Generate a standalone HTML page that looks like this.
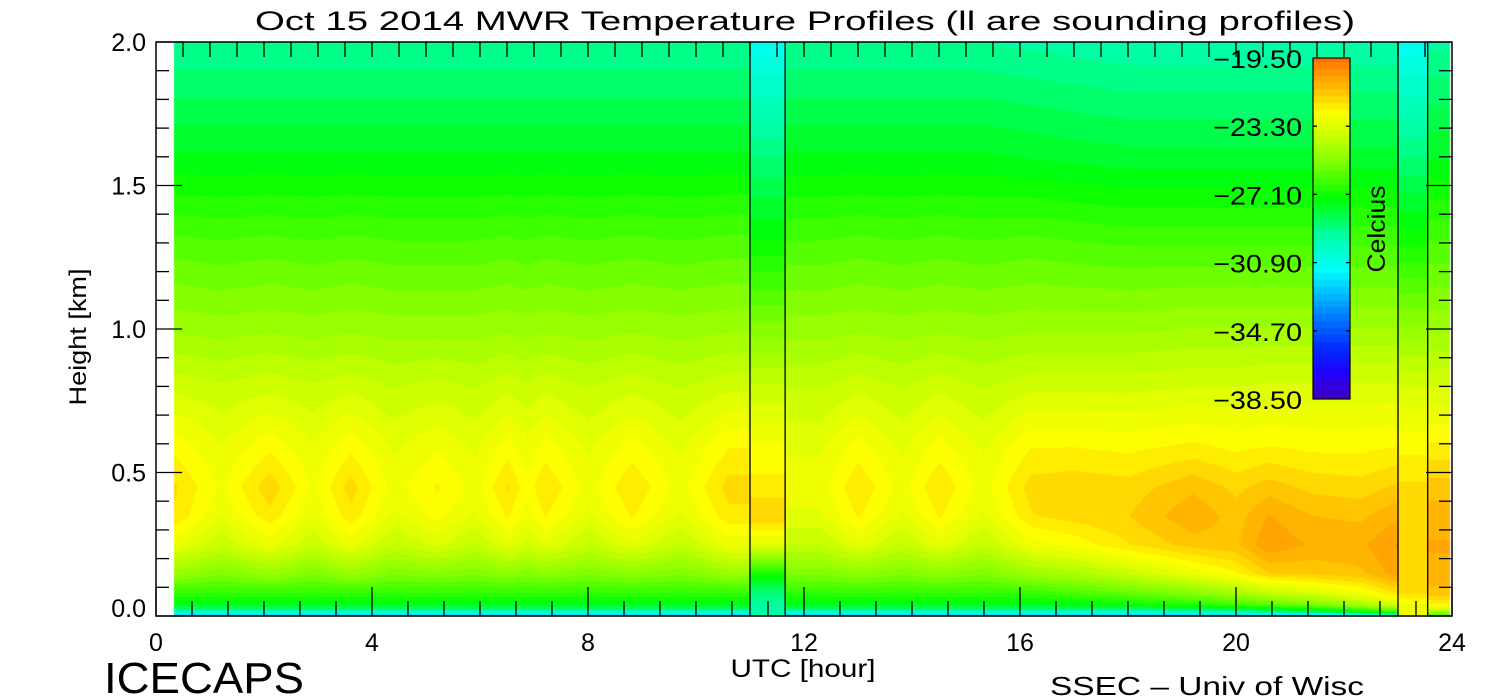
<!DOCTYPE html>
<html><head><meta charset="utf-8"><style>
html,body{margin:0;padding:0;background:#fff;width:1500px;height:700px;overflow:hidden}
#wrap{position:relative;width:1500px;height:700px}
canvas{position:absolute;left:0;top:0}
svg{position:absolute;left:0;top:0}
text{font-family:"Liberation Sans",sans-serif;fill:#000}
</style></head><body>
<div id="wrap">
<canvas id="cv" width="1500" height="700"></canvas>
<svg id="sv" width="1500" height="700"></svg>
</div>
<script>
// ---- data ----
const heights = [0,0.015,0.04,0.08,0.15,0.25,0.35,0.45,0.6,0.8,1.0,1.3,1.6,2.0];
const times = [0.33,1.2,2.1,2.9,3.6,4.4,5.2,5.9,6.5,6.85,7.2,8.0,8.8,9.7,10.6,11.0];
const temps = [
 [-34,-30,-27.6,-26.6,-24.8,-23.0,-22.0,-21.9,-22.5,-23.6,-24.7,-26.0,-27.6,-29.2],
 [-34,-30,-27.6,-26.6,-25.3,-23.8,-23.1,-22.8,-23.1,-23.8,-24.8,-26.1,-27.6,-29.2],
 [-34,-30,-27.6,-26.6,-24.8,-23.0,-22.1,-21.7,-22.5,-23.6,-24.7,-26.0,-27.6,-29.2],
 [-34,-30,-27.6,-26.6,-25.3,-23.8,-23.1,-22.8,-23.1,-23.8,-24.8,-26.1,-27.6,-29.2],
 [-34,-30,-27.6,-26.6,-24.8,-23.0,-22.1,-21.8,-22.5,-23.6,-24.7,-26.0,-27.6,-29.2],
 [-34,-30,-27.6,-26.6,-25.3,-23.9,-23.2,-22.9,-23.2,-23.9,-24.8,-26.1,-27.6,-29.2],
 [-34,-30,-27.6,-26.6,-25.1,-23.4,-22.6,-22.3,-22.8,-23.7,-24.8,-26.1,-27.6,-29.2],
 [-34,-30,-27.6,-26.6,-25.3,-23.9,-23.2,-22.9,-23.2,-23.9,-24.8,-26.1,-27.6,-29.2],
 [-34,-30,-27.6,-26.6,-25.0,-23.2,-22.3,-21.9,-22.6,-23.6,-24.7,-26.0,-27.6,-29.2],
 [-34,-30,-27.6,-26.6,-25.2,-23.6,-22.9,-22.6,-23.0,-23.8,-24.8,-26.1,-27.6,-29.2],
 [-34,-30,-27.6,-26.6,-25.0,-23.2,-22.3,-22.0,-22.6,-23.6,-24.7,-26.0,-27.6,-29.2],
 [-34,-30,-27.6,-26.6,-25.3,-23.9,-23.2,-22.9,-23.2,-23.9,-24.8,-26.1,-27.6,-29.2],
 [-34,-30,-27.6,-26.6,-25.0,-23.2,-22.3,-22.0,-22.6,-23.6,-24.7,-26.0,-27.6,-29.2],
 [-34,-30,-27.6,-26.6,-25.3,-23.9,-23.2,-22.9,-23.2,-23.9,-24.8,-26.1,-27.6,-29.2],
 [-34,-30,-27.6,-26.6,-24.8,-23.0,-22.1,-21.8,-22.4,-23.6,-24.7,-26.0,-27.6,-29.2],
 [-34,-30,-27.6,-26.6,-24.8,-23.0,-22.1,-21.8,-22.4,-23.6,-24.7,-26.0,-27.6,-29.2]
];
const times2 = [11.65,12.3,13.0,13.8,14.5,15.3,16.2,17.0,18.0,19.2,20.0,20.6,21.4,22.3,23.0];
const temps2 = [
 [-34,-30,-27.6,-26.6,-25.3,-23.9,-23.2,-22.9,-23.2,-23.9,-24.8,-26.1,-27.6,-29.2],
 [-34,-30,-27.6,-26.6,-25.3,-23.9,-23.2,-22.9,-23.2,-23.9,-24.8,-26.1,-27.6,-29.2],
 [-34,-30,-27.6,-26.6,-25.0,-23.2,-22.3,-22.0,-22.6,-23.6,-24.7,-26.0,-27.6,-29.2],
 [-34,-30,-27.6,-26.6,-25.3,-23.9,-23.2,-22.9,-23.2,-23.9,-24.8,-26.1,-27.6,-29.2],
 [-34,-30,-27.6,-26.6,-25.0,-23.2,-22.3,-22.0,-22.6,-23.6,-24.7,-26.0,-27.6,-29.2],
 [-34,-30,-27.6,-26.6,-25.3,-23.9,-23.2,-22.9,-23.2,-23.9,-24.8,-26.1,-27.6,-29.2],
 [-34,-30,-27.6,-26.5,-24.7,-22.9,-22.0,-21.8,-22.4,-23.6,-24.7,-26.0,-27.7,-29.3],
 [-34,-30,-27.5,-26.2,-24.4,-22.6,-21.8,-21.7,-22.4,-23.6,-24.7,-26.1,-27.8,-29.4],
 [-34,-30,-27.2,-25.8,-23.8,-22.0,-21.6,-21.8,-22.5,-23.6,-24.7,-26.2,-27.9,-29.5],
 [-34,-29.8,-26.8,-25.2,-23.0,-21.4,-20.9,-21.3,-22.3,-23.5,-24.6,-26.2,-27.9,-29.5],
 [-34,-29.5,-26.4,-24.6,-22.4,-21.3,-21.4,-21.7,-22.5,-23.5,-24.6,-26.2,-27.9,-29.5],
 [-34,-29,-26.0,-24.0,-21.6,-20.5,-20.8,-21.4,-22.4,-23.4,-24.6,-26.2,-27.9,-29.5],
 [-34,-28.5,-25.5,-23.5,-21.5,-20.9,-21.2,-21.7,-22.5,-23.4,-24.6,-26.2,-27.9,-29.5],
 [-33,-27.5,-24.5,-22.8,-21.3,-20.9,-21.3,-21.8,-22.5,-23.4,-24.6,-26.2,-27.9,-29.5],
 [-32,-26.5,-23.5,-22.0,-20.6,-20.4,-20.9,-21.5,-22.4,-23.4,-24.6,-26.2,-27.9,-29.5]
];
const times3 = [23.55,23.9];
const temps3 = [
 [-27,-24.5,-22.4,-21.4,-20.9,-20.8,-21.0,-21.4,-22.3,-23.5,-24.7,-26.1,-27.7,-29.3],
 [-27,-24.5,-22.4,-21.4,-20.9,-20.8,-21.0,-21.4,-22.3,-23.5,-24.7,-26.1,-27.7,-29.3]
];
const soundTimes = [[11.0,11.65],[23.0,23.55]];
const soundTemps = [
 [-29.5,-29.4,-29.3,-28.8,-27.0,-23.2,-21.6,-22.2,-22.7,-23.8,-25.2,-27.2,-28.8,-31.0],
 [-23.0,-22.9,-22.8,-21.9,-21.8,-21.8,-21.8,-21.9,-22.5,-23.5,-24.9,-27.0,-28.8,-31.0]
];
const cbLabels = ["-19.50","-23.30","-27.10","-30.90","-34.70","-38.50"];
const xTicks = [0,4,8,12,16,20,24];
const yTicks = [0.0,0.5,1.0,1.5,2.0];

// ---- axes ----
const X0=156, X1=1452, Y0=616, Y1=42;
const xs = t => X0 + t*(X1-X0)/24;
const ys = h => Y0 - h*(Y0-Y1)/2;
const VMIN=-38.5, VMAX=-19.5;
const stops=[[-38.5,[64,0,192]],[-37,[32,0,255]],[-35.5,[0,48,255]],[-33.5,[0,144,255]],[-31.3,[0,255,255]],[-29.3,[0,255,160]],[-27.3,[0,255,0]],[-25.3,[128,255,0]],[-23.3,[224,255,0]],[-22.5,[255,255,0]],[-21.3,[255,192,0]],[-20.3,[255,150,0]],[-19.5,[255,110,0]]];
function cmap(v){
  v=Math.max(VMIN,Math.min(VMAX,v));
  v=VMIN+Math.round((v-VMIN)/0.38)*0.38;
  for(let i=0;i<stops.length-1;i++){
    const a=stops[i],b=stops[i+1];
    if(v<=b[0]){const f=(v-a[0])/(b[0]-a[0]);return [0,1,2].map(k=>Math.round(a[1][k]+f*(b[1][k]-a[1][k])));}
  }
  return stops[stops.length-1][1];
}
function profAt(p,h){
  for(let i=0;i<heights.length-1;i++){
    if(h<=heights[i+1]){const f=(h-heights[i])/(heights[i+1]-heights[i]);return p[i]+f*(p[i+1]-p[i]);}
  }
  return p[p.length-1];
}
function fieldAt(T,P,t,h){
  if(t<=T[0]) return profAt(P[0],h);
  for(let i=0;i<T.length-1;i++){
    if(t<=T[i+1]){const f=(t-T[i])/(T[i+1]-T[i]);return profAt(P[i],h)*(1-f)+profAt(P[i+1],h)*f;}
  }
  return profAt(P[P.length-1],h);
}
const cv=document.getElementById('cv'),ctx=cv.getContext('2d');
const img=ctx.createImageData(1500,700);
const xa=Math.round(xs(times[0])), xb=Math.round(xs(times3[1]))+3;
for(let px=xa;px<xb;px++){
  const t=(px-X0)*24/(X1-X0);
  let T,P,cst=null;
  for(let s=0;s<soundTimes.length;s++){if(t>=soundTimes[s][0]&&t<soundTimes[s][1]) cst=soundTemps[s];}
  if(!cst){
    if(t<soundTimes[0][0]){T=times;P=temps;}
    else if(t<soundTimes[1][0]){T=times2;P=temps2;}
    else {T=times3;P=temps3;}
  }
  for(let py=Y1;py<Y0;py++){
    const h=(Y0-py)*2/(Y0-Y1);
    const v=cst?profAt(cst,h):fieldAt(T,P,t,h);
    const c=cmap(v);const o=(py*1500+px)*4;
    img.data[o]=c[0];img.data[o+1]=c[1];img.data[o+2]=c[2];img.data[o+3]=255;
  }
}
// colorbar
const CX0=1313,CX1=1350,CY0=58,CY1=399;
for(let py=CY0;py<CY1;py++){
  const v=VMAX-(py-CY0)/(CY1-CY0)*(VMAX-VMIN);
  const c=cmap(v);
  for(let px=CX0;px<CX1;px++){const o=(py*1500+px)*4;img.data[o]=c[0];img.data[o+1]=c[1];img.data[o+2]=c[2];img.data[o+3]=255;}
}
ctx.putImageData(img,0,0);

// ---- overlay ----
const NS='http://www.w3.org/2000/svg';
const sv=document.getElementById('sv');
function el(tag,attrs,parent){const e=document.createElementNS(NS,tag);for(const k in attrs)e.setAttribute(k,attrs[k]);(parent||sv).appendChild(e);return e;}
function line(x1,y1,x2,y2,name){const e=el('line',{x1:x1,y1:y1,x2:x2,y2:y2,stroke:'#000','stroke-width':1.3});

return e;}
const frame=el('rect',{x:X0,y:Y1,width:X1-X0,height:Y0-Y1,fill:'none',stroke:'#000','stroke-width':1.5});


soundTimes.forEach(st=>{st.forEach(t=>{line(xs(t),Y1,xs(t),Y0,'sounding-marker-line');});});
for(let t=0;t<=24.001;t+=2/3){const maj=Math.abs(t/4-Math.round(t/4))<0.01;line(xs(t),Y0,xs(t),Y0-(maj?29:15),'x-tick');}
for(let t=0.5;t<24;t+=0.5){line(xs(t),Y1,xs(t),Y1+15,'x-tick-top');}
xTicks.forEach(t=>{const e=el('text',{x:xs(t),y:651,'font-size':25,'text-anchor':'middle'});e.textContent=t;

});
for(let i=0;i<=20;i++){const h=i/10;const maj=i%5===0;line(X0,ys(h),X0+(maj?26:13),ys(h),'y-tick');line(X1,ys(h),X1-(maj?26:13),ys(h),'y-tick-right');}
yTicks.forEach(h=>{const e=el('text',{x:146,y:ys(h)+(h===0?1:9),'font-size':25,'text-anchor':'end'});e.textContent=h.toFixed(1);

});
const cb=el('rect',{x:CX0,y:CY0,width:CX1-CX0,height:CY1-CY0,fill:'none',stroke:'#000','stroke-width':1.2});


cbLabels.forEach((s,i)=>{const y=CY0+i*(CY1-CY0)/(cbLabels.length-1);
if(i>0&&i<cbLabels.length-1){line(CX0,y,CX0+4,y,'colorbar-tick');line(CX1,y,CX1-4,y,'colorbar-tick');}
const e=el('text',{x:1213,y:y+10,'font-size':25,textLength:89,lengthAdjust:'spacingAndGlyphs'});e.textContent=s.replace('-','\u2212');

});
</script>
<svg width="1500" height="700" style="position:absolute;left:0;top:0;pointer-events:none">
<text x="805" y="30" font-size="27" text-anchor="middle" textLength="1100" lengthAdjust="spacingAndGlyphs">Oct 15 2014 MWR Temperature Profiles (ll are sounding profiles)</text>
<text transform="translate(86,337) rotate(-90)" font-size="24" text-anchor="middle" textLength="137" lengthAdjust="spacingAndGlyphs">Height [km]</text>
<text x="803" y="677" font-size="25" text-anchor="middle" textLength="145" lengthAdjust="spacingAndGlyphs">UTC [hour]</text>
<text x="104" y="693" font-size="44" textLength="200" lengthAdjust="spacingAndGlyphs">ICECAPS</text>
<text x="1050" y="695" font-size="26" textLength="314" lengthAdjust="spacingAndGlyphs">SSEC – Univ of Wisc</text>
<text transform="translate(1385,229) rotate(-90)" font-size="25" text-anchor="middle" textLength="87" lengthAdjust="spacingAndGlyphs">Celcius</text>
</svg>
</body></html>
